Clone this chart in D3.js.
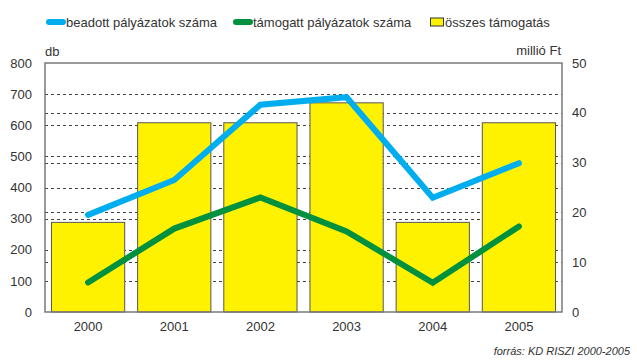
<!DOCTYPE html>
<html>
<head>
<meta charset="utf-8">
<script src="https://cdn.jsdelivr.net/npm/d3@7/dist/d3.min.js"></script>
<style>
  html, body { margin: 0; padding: 0; background: #fff; }
  svg { display: block; font-family: "Liberation Sans", Arial, sans-serif; }
</style>
</head>
<body>
<svg id="chart" width="637" height="360"></svg>
<script>
// Years on the x axis
const years = ["2000", "2001", "2002", "2003", "2004", "2005"];
// Number of submitted applications (db)
const submitted = [312, 424, 666, 690, 367, 478];
// Number of supported applications (db)
const supported = [95, 268, 368, 259, 94, 275];
// Total support (million Ft)
const funding = [18, 38, 38, 42, 18, 38];
// Axis ticks
const leftTicks = [0, 100, 200, 300, 400, 500, 600, 700, 800];
const rightTicks = [0, 10, 20, 30, 40, 50];

const legendItems = [
  { label: "beadott pályázatok száma", type: "line", color: "#00aeef" },
  { label: "támogatt pályázatok száma", type: "line", color: "#00913f" },
  { label: "összes támogatás", type: "box", color: "#fff200" }
];

const svg = d3.select("#chart");
const plot = { left: 45, right: 562, top: 63, bottom: 312 };

const x = d3.scaleBand().domain(years)
  .range([plot.left, plot.right])
  .paddingInner(0.15).paddingOuter(0.075);
const xc = d => x(d) + x.bandwidth() / 2;
const yL = d3.scaleLinear().domain([0, 800]).range([plot.bottom, plot.top]);
const yR = d3.scaleLinear().domain([0, 50]).range([plot.bottom, plot.top]);

// Dashed gridlines for both value axes, behind the bars
const grid = svg.append("g");
const gridYs = leftTicks.slice(1, -1).map(yL).concat(rightTicks.slice(1, -1).map(yR));
grid.selectAll("line").data(gridYs).join("line")
  .attr("x1", plot.left).attr("x2", plot.right)
  .attr("y1", d => Math.round(d) + 0.5).attr("y2", d => Math.round(d) + 0.5)
  .attr("stroke", "#444").attr("stroke-width", 1)
  .attr("stroke-dasharray", "3,3");

// Bars: total support on the right axis
svg.append("g").selectAll("rect").data(years).join("rect")
  .attr("x", d => x(d))
  .attr("y", (d, i) => yR(funding[i]))
  .attr("width", x.bandwidth())
  .attr("height", (d, i) => plot.bottom - yR(funding[i]))
  .attr("fill", "#fff200")
  .attr("stroke", "#555").attr("stroke-width", 1);

// Plot frame
svg.append("rect")
  .attr("x", plot.left).attr("y", plot.top)
  .attr("width", plot.right - plot.left).attr("height", plot.bottom - plot.top)
  .attr("fill", "none").attr("stroke", "#7a7a7a").attr("stroke-width", 1.5);

// Lines on the left axis
const line = d3.line().x((d, i) => xc(years[i])).y(d => yL(d));
[[submitted, "#00aeef"], [supported, "#00913f"]].forEach(([vals, col]) => {
  svg.append("path").datum(vals)
    .attr("d", line)
    .attr("fill", "none").attr("stroke", col)
    .attr("stroke-width", 6).attr("stroke-linejoin", "miter")
    .attr("stroke-linecap", "round");
});

// Left axis labels
const lAxis = svg.append("g").attr("transform", `translate(${plot.left},0)`)
  .call(d3.axisLeft(yL).tickValues(leftTicks).tickSize(0).tickPadding(13));
lAxis.select(".domain").remove();
lAxis.selectAll("text").attr("font-size", 13).attr("fill", "#333")
  .attr("font-family", "Liberation Sans, Arial, sans-serif");

// Right axis labels
const rAxis = svg.append("g").attr("transform", `translate(${plot.right},0)`)
  .call(d3.axisRight(yR).tickValues(rightTicks).tickSize(0).tickPadding(10));
rAxis.select(".domain").remove();
rAxis.selectAll("text").attr("font-size", 13).attr("fill", "#333")
  .attr("font-family", "Liberation Sans, Arial, sans-serif");

// Category labels
const xAxis = svg.append("g").attr("transform", `translate(0,${plot.bottom})`)
  .call(d3.axisBottom(x).tickSize(0).tickPadding(10));
xAxis.select(".domain").remove();
xAxis.selectAll("text").attr("font-size", 13).attr("fill", "#333")
  .attr("font-family", "Liberation Sans, Arial, sans-serif");

// Axis unit titles
svg.append("text").attr("x", 45).attr("y", 56)
  .attr("font-size", 13).attr("fill", "#333").text("db");
svg.append("text").attr("x", 561).attr("y", 55).attr("text-anchor", "end")
  .attr("font-size", 13).attr("fill", "#333").text("millió Ft");

// Legend
const legendX = [47, 234, 430];
const lg = svg.append("g");
legendItems.forEach((it, i) => {
  const g = lg.append("g").attr("transform", `translate(${legendX[i]},22)`);
  if (it.type === "line") {
    g.append("line").attr("x1", 2).attr("x2", 16).attr("y1", 0).attr("y2", 0)
      .attr("stroke", it.color).attr("stroke-width", 6).attr("stroke-linecap", "round");
    g.append("text").attr("x", 19).attr("y", 4.5)
      .attr("font-size", 13).attr("fill", "#333").text(it.label);
  } else {
    g.append("rect").attr("x", 0.5).attr("y", -4).attr("width", 13).attr("height", 8)
      .attr("fill", it.color).attr("stroke", "#333").attr("stroke-width", 1);
    g.append("text").attr("x", 15).attr("y", 4.5)
      .attr("font-size", 13).attr("fill", "#333").text(it.label);
  }
});

// Source note
svg.append("text").attr("x", 630).attr("y", 355).attr("text-anchor", "end")
  .attr("font-size", 11).attr("font-style", "italic").attr("fill", "#333")
  .text("forrás: KD RISZI 2000-2005");
</script>
</body>
</html>
